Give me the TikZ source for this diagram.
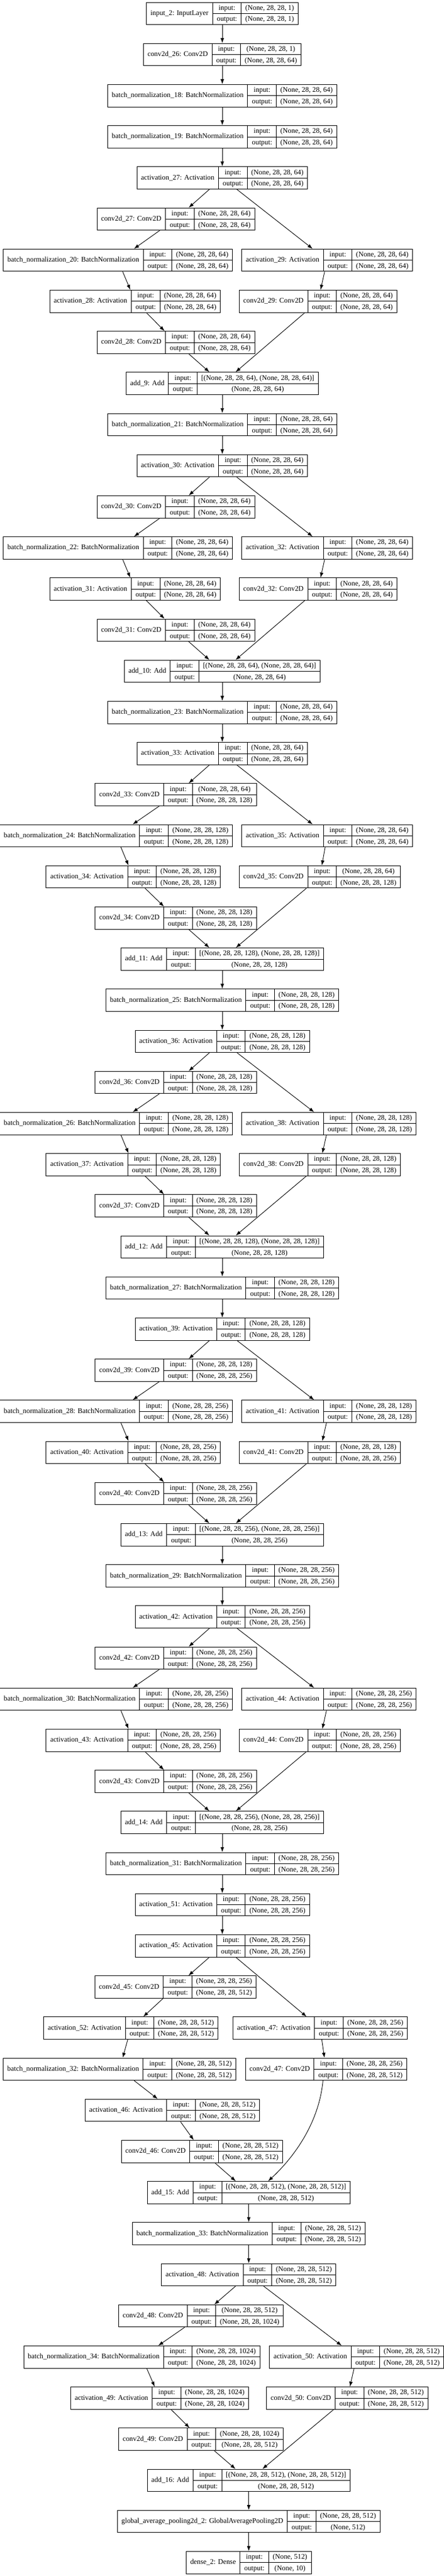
\documentclass[tikz,border=0pt]{standalone}
\usepackage{fontspec}
\setmainfont{Liberation Serif}
\usepackage{tikz}
\usetikzlibrary{calc,arrows.meta}

\setlength{\tabcolsep}{7.07pt}
\setlength{\arrayrulewidth}{0.9pt}
\renewcommand{\arraystretch}{1.27}

\newcommand{\layerbox}[3]{%
  \begin{tabular}{c|@{}c@{}}
    #1 & \begin{tabular}{c|c}
      input: & #2 \\ \hline
      output: & #3
    \end{tabular}
  \end{tabular}}
\newcommand{\shp}[1]{(None, 28, 28, #1)}

\tikzset{
  layer/.style={draw, line width=0.9pt, inner sep=0pt,
    font={\fontsize{12.37pt}{14.84pt}\selectfont}},
  flow/.style={-{Latex[length=8.8pt,width=6.2pt]}, line width=0.9pt}
}

\begin{document}
\begin{tikzpicture}[x=1pt,y=-71.2pt]
  \useasboundingbox (0,-0.328) rectangle (768,62.326);

  %% Stem of the network
  \node[layer] (input2) at (385,0) {\layerbox{input\_2: InputLayer}{\shp{1}}{\shp{1}}};
  \node[layer] (conv26) at (385,1) {\layerbox{conv2d\_26: Conv2D}{\shp{1}}{\shp{64}}};
  \node[layer] (bn18) at (385,2) {\layerbox{batch\_normalization\_18: BatchNormalization}{\shp{64}}{\shp{64}}};
  \node[layer] (bn19) at (385,3) {\layerbox{batch\_normalization\_19: BatchNormalization}{\shp{64}}{\shp{64}}};
  \draw[flow] (input2) -- (conv26);
  \draw[flow] (conv26) -- (bn18);
  \draw[flow] (bn18) -- (bn19);

  %% Residual blocks, seven ranks each
  \foreach \k/\si/\so in {0/64/64,1/64/64,2/64/128,3/128/128,4/128/256,5/256/256}
  {
    \pgfmathtruncatemacro\rk{4+7*\k}
    \pgfmathtruncatemacro\nAct{27+3*\k}
    \pgfmathtruncatemacro\nActB{28+3*\k}
    \pgfmathtruncatemacro\nActC{29+3*\k}
    \pgfmathtruncatemacro\nBn{20+2*\k}
    \pgfmathtruncatemacro\nBnN{21+2*\k}
    \pgfmathtruncatemacro\nBnP{19+2*\k}
    \pgfmathtruncatemacro\nAdd{9+\k}
    \node[layer] (act\nAct) at (385,\rk)
      {\layerbox{activation\_\nAct: Activation}{\shp{\si}}{\shp{\si}}};
    \node[layer] (conv\nAct) at (304.5,\rk+1)
      {\layerbox{conv2d\_\nAct: Conv2D}{\shp{\si}}{\shp{\so}}};
    \node[layer,anchor=east] (bn\nBn) at (403,\rk+2)
      {\layerbox{batch\_normalization\_\nBn: BatchNormalization}{\shp{\so}}{\shp{\so}}};
    \node[layer,anchor=west] (act\nActC) at (418.3,\rk+2)
      {\layerbox{activation\_\nActC: Activation}{\shp{\si}}{\shp{\si}}};
    \node[layer,anchor=east] (act\nActB) at (382.3,\rk+3)
      {\layerbox{activation\_\nActB: Activation}{\shp{\so}}{\shp{\so}}};
    \node[layer,anchor=west] (conv\nActC) at (413.9,\rk+3)
      {\layerbox{conv2d\_\nActC: Conv2D}{\shp{\si}}{\shp{\so}}};
    \node[layer] (conv\nActB) at (304.5,\rk+4)
      {\layerbox{conv2d\_\nActB: Conv2D}{\shp{\so}}{\shp{\so}}};
    \node[layer] (add\nAdd) at (385,\rk+5)
      {\layerbox{add\_\nAdd: Add}{[\shp{\so}, \shp{\so}]}{\shp{\so}}};
    \node[layer] (bn\nBnN) at (385,\rk+6)
      {\layerbox{batch\_normalization\_\nBnN: BatchNormalization}{\shp{\so}}{\shp{\so}}};

    \draw[flow] (bn\nBnP) -- (act\nAct);
    \draw[flow] (act\nAct) -- (conv\nAct);
    \draw[flow] (act\nAct) -- (act\nActC);
    \draw[flow] (conv\nAct) -- (bn\nBn);
    \draw[flow] (bn\nBn) -- (act\nActB);
    \draw[flow] (act\nActB) -- (conv\nActB);
    \draw[flow] (act\nActC) -- (conv\nActC);
    \draw[flow] (conv\nActB) -- (add\nAdd);
    \draw[flow] (conv\nActC) -- (add\nAdd);
    \draw[flow] (add\nAdd) -- (bn\nBnN);
  }

  %% Widening block to 512
  \node[layer] (act51) at (385,46) {\layerbox{activation\_51: Activation}{\shp{256}}{\shp{256}}};
  \node[layer] (act45) at (385,47) {\layerbox{activation\_45: Activation}{\shp{256}}{\shp{256}}};
  \node[layer] (conv45) at (303.9,48) {\layerbox{conv2d\_45: Conv2D}{\shp{256}}{\shp{512}}};
  \node[layer,anchor=east] (act52) at (378.1,49) {\layerbox{activation\_52: Activation}{\shp{512}}{\shp{512}}};
  \node[layer,anchor=west] (act47) at (403.1,49) {\layerbox{activation\_47: Activation}{\shp{256}}{\shp{256}}};
  \node[layer,anchor=east] (bn32) at (409,50) {\layerbox{batch\_normalization\_32: BatchNormalization}{\shp{512}}{\shp{512}}};
  \node[layer,anchor=west] (conv47) at (424.7,50) {\layerbox{conv2d\_47: Conv2D}{\shp{256}}{\shp{512}}};
  \node[layer] (act46) at (298.5,51) {\layerbox{activation\_46: Activation}{\shp{512}}{\shp{512}}};
  \node[layer] (conv46) at (349.7,52) {\layerbox{conv2d\_46: Conv2D}{\shp{512}}{\shp{512}}};
  \node[layer] (add15) at (430.8,53) {\layerbox{add\_15: Add}{[\shp{512}, \shp{512}]}{\shp{512}}};
  \node[layer] (bn33) at (430.8,54) {\layerbox{batch\_normalization\_33: BatchNormalization}{\shp{512}}{\shp{512}}};

  \draw[flow] (bn31) -- (act51);
  \draw[flow] (act51) -- (act45);
  \draw[flow] (act45) -- (conv45);
  \draw[flow] (act45) -- (act47);
  \draw[flow] (conv45) -- (act52);
  \draw[flow] (act52) -- (bn32);
  \draw[flow] (bn32) -- (act46);
  \draw[flow] (act46) -- (conv46);
  \draw[flow] (conv46) -- (add15);
  \draw[flow] (act47) -- (conv47);
  \draw[flow] ([xshift=-5.4pt]conv47.south) .. controls +(-7.4pt,-77.3pt) and +(40.7pt,37.6pt) .. ([xshift=33.5pt]add15.north);
  \draw[flow] (add15) -- (bn33);

  %% Bottleneck block and head
  \node[layer] (act48) at (430.8,55) {\layerbox{activation\_48: Activation}{\shp{512}}{\shp{512}}};
  \node[layer] (conv48) at (348.2,56) {\layerbox{conv2d\_48: Conv2D}{\shp{512}}{\shp{1024}}};
  \node[layer,anchor=east] (bn34) at (450.6,57) {\layerbox{batch\_normalization\_34: BatchNormalization}{\shp{1024}}{\shp{1024}}};
  \node[layer,anchor=west] (act50) at (466.3,57) {\layerbox{activation\_50: Activation}{\shp{512}}{\shp{512}}};
  \node[layer,anchor=east] (act49) at (431,58) {\layerbox{activation\_49: Activation}{\shp{1024}}{\shp{1024}}};
  \node[layer,anchor=west] (conv50) at (461.4,58) {\layerbox{conv2d\_50: Conv2D}{\shp{512}}{\shp{512}}};
  \node[layer] (conv49) at (348.2,59) {\layerbox{conv2d\_49: Conv2D}{\shp{1024}}{\shp{512}}};
  \node[layer] (add16) at (430.8,60) {\layerbox{add\_16: Add}{[\shp{512}, \shp{512}]}{\shp{512}}};
  \node[layer] (gap2) at (430.8,61) {\layerbox{global\_average\_pooling2d\_2: GlobalAveragePooling2D}{\shp{512}}{(None, 512)}};
  \node[layer] (dense2) at (430.8,62) {\layerbox{dense\_2: Dense}{(None, 512)}{(None, 10)}};

  \draw[flow] (bn33) -- (act48);
  \draw[flow] (act48) -- (conv48);
  \draw[flow] (act48) -- (act50);
  \draw[flow] (conv48) -- (bn34);
  \draw[flow] (bn34) -- (act49);
  \draw[flow] (act49) -- (conv49);
  \draw[flow] (conv49) -- (add16);
  \draw[flow] (act50) -- (conv50);
  \draw[flow] (conv50) -- (add16);
  \draw[flow] (add16) -- (gap2);
  \draw[flow] (gap2) -- (dense2);

\end{tikzpicture}
\end{document}
